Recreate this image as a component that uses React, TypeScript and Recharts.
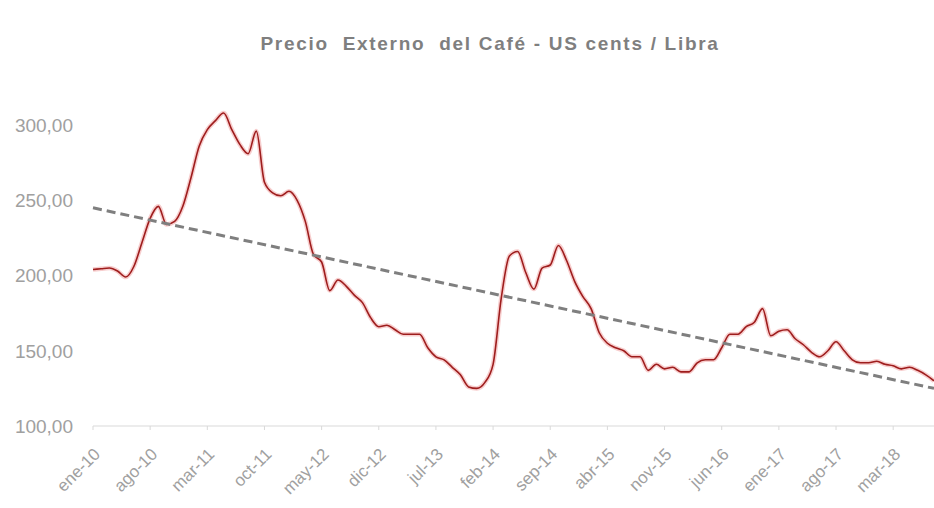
import { LineChart, Line, XAxis, YAxis, ReferenceLine } from 'recharts';

const MONTHS = ['ene', 'feb', 'mar', 'abr', 'may', 'jun', 'jul', 'ago', 'sep', 'oct', 'nov', 'dic'];
const YEARS = ['10', '11', '12', '13', '14', '15', '16', '17', '18'];

// precio mensual, ene-10 .. ago-18 (US cents / libra)
const PRICES = [
  204, 204.5, 205, 203, 199, 206, 222, 238, 246, 234, 236, 246,
  265, 286, 297, 303, 308, 297, 287, 281, 296, 262, 255, 253,
  256, 250, 236, 214, 209, 190, 197, 193, 187, 182, 172, 166,
  167, 164, 161, 161, 161, 152, 146, 144, 139, 134, 126, 125,
  129, 141, 185, 213, 216, 202, 191, 205, 207, 220, 210, 196,
  186, 178, 162, 155, 152, 150, 146, 146, 137, 141, 138, 139,
  136, 136, 142, 144, 144, 152, 161, 161, 166, 169, 178, 160,
  163, 164, 158, 154, 149, 146, 150, 156, 150, 144, 142, 142,
  143, 141, 140, 138, 139, 137, 134, 130,
];

const Y_TICKS = [100, 150, 200, 250, 300];
const TREND_START = 245;
const TREND_END = 125;

const CATEGORIES: string[] = [];
YEARS.forEach((yr) => MONTHS.forEach((m) => CATEGORIES.push(`${m}-${yr}`)));

const data = PRICES.map((precio, i) => ({ mes: CATEGORIES[i], precio }));

const TICK_COLOR = '#a0a0a0';
const FONT = '"Liberation Sans", Arial, sans-serif';

function XTick({ x, y, payload }: any) {
  return (
    <g transform={`translate(${x + 4},${y + 19})`}>
      <text
        transform="rotate(-45)"
        textAnchor="end"
        dy="0.35em"
        fontSize={17}
        fontFamily={FONT}
        fill={TICK_COLOR}
      >
        {payload.value}
      </text>
    </g>
  );
}

function formatY(v: number) {
  return v.toFixed(2).replace('.', ',');
}

export default function App() {
  return (
    <div style={{ position: 'absolute', left: 0, top: 0, width: 934, height: 508, background: '#fff', overflow: 'hidden' }}>
      <div
        style={{
          position: 'absolute',
          left: 0,
          width: 980,
          top: 33,
          textAlign: 'center',
          fontFamily: FONT,
          fontWeight: 700,
          fontSize: 19,
          letterSpacing: 1.7,
          color: '#7f7f7f',
          whiteSpace: 'pre',
        }}
      >
        {'Precio  Externo  del Café - US cents / Libra'}
      </div>
      <LineChart
        width={934}
        height={508}
        data={data}
        margin={{ top: 95, right: 0, left: 0, bottom: 0 }}
      >
        <XAxis
          dataKey="mes"
          interval={6}
          height={82}
          tick={<XTick />}
          tickSize={4}
          tickMargin={2}
          axisLine={{ stroke: '#d9d9d9' }}
          tickLine={{ stroke: '#d9d9d9' }}
        />
        <YAxis
          domain={[100, 320]}
          ticks={Y_TICKS}
          width={93}
          axisLine={false}
          tickLine={false}
          tickMargin={14}
          tickFormatter={formatY}
          tick={{ fontSize: 19, fill: TICK_COLOR, fontFamily: FONT }}
        />
        <Line
          type="monotone"
          dataKey="precio"
          stroke="#f3b9b9"
          strokeOpacity={0.7}
          strokeWidth={4.5}
          dot={false}
          isAnimationActive={false}
        />
        <Line
          type="monotone"
          dataKey="precio"
          stroke="#9e1d1d"
          strokeWidth={1.6}
          dot={false}
          isAnimationActive={false}
        />
        <ReferenceLine
          segment={[
            { x: CATEGORIES[0], y: TREND_START },
            { x: CATEGORIES[PRICES.length - 1], y: TREND_END },
          ]}
          stroke="#7f7f7f"
          strokeWidth={3}
          strokeDasharray="9 5"
        />
      </LineChart>
    </div>
  );
}
